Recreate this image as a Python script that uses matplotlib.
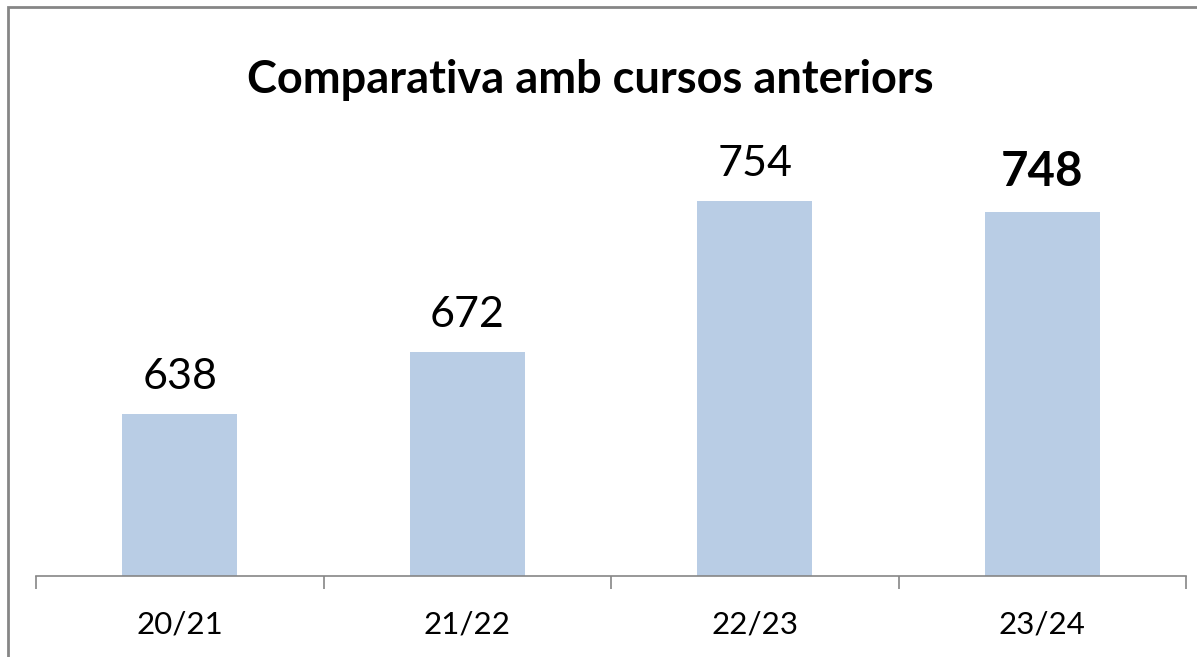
import matplotlib
matplotlib.use("Agg")
import matplotlib.pyplot as plt
from matplotlib.patches import Rectangle

categories = ["20/21", "21/22", "22/23", "23/24"]
values = [638, 672, 754, 748]
bold_last = [False, False, False, True]

plt.rcParams['font.family'] = ['Lato', 'DejaVu Sans']

W, H = 1197, 657
fig = plt.figure(figsize=(W/100, H/100), dpi=100)
ax = fig.add_axes([36/W, 81/H, (1186-36)/W, (576-117)/H])

x = range(len(categories))
ax.bar(x, values, width=0.4, color="#b9cde5", bottom=0)
ax.set_xlim(-0.5, len(categories)-0.5)
ax.set_ylim(550, 800)

for xi, v, b in zip(x, values, bold_last):
    ax.text(xi, v + 10, str(v), ha="center", va="bottom",
            fontsize=34 if b else 31, fontweight="bold" if b else "normal", color="black")

for s in ["top", "right", "left"]:
    ax.spines[s].set_visible(False)
ax.spines["bottom"].set_color("#868686")
ax.spines["bottom"].set_linewidth(1.2)
ax.set_yticks([])
ax.set_xticks([i - 0.5 for i in range(len(categories)+1)], minor=False)
ax.set_xticklabels([])
ax.tick_params(axis="x", which="major", length=9, color="#868686", width=1.2, direction="out")
ax.set_xticks(list(x), minor=True)
ax.set_xticklabels(categories, minor=True, fontsize=22.5)
ax.tick_params(axis="x", which="minor", length=0, pad=25)

fig.text(590/W, 1 - 80/H, "Comparativa amb cursos anteriors", ha="center", va="center",
         fontsize=32.5, fontweight="bold")

border = Rectangle((8/W, -0.05), 1.05, 1 - 7/H + 0.05, transform=fig.transFigure,
                   fill=False, edgecolor="#868686", linewidth=2.0, clip_on=False)
fig.patches.append(border)

fig.savefig("out.png", dpi=100)
